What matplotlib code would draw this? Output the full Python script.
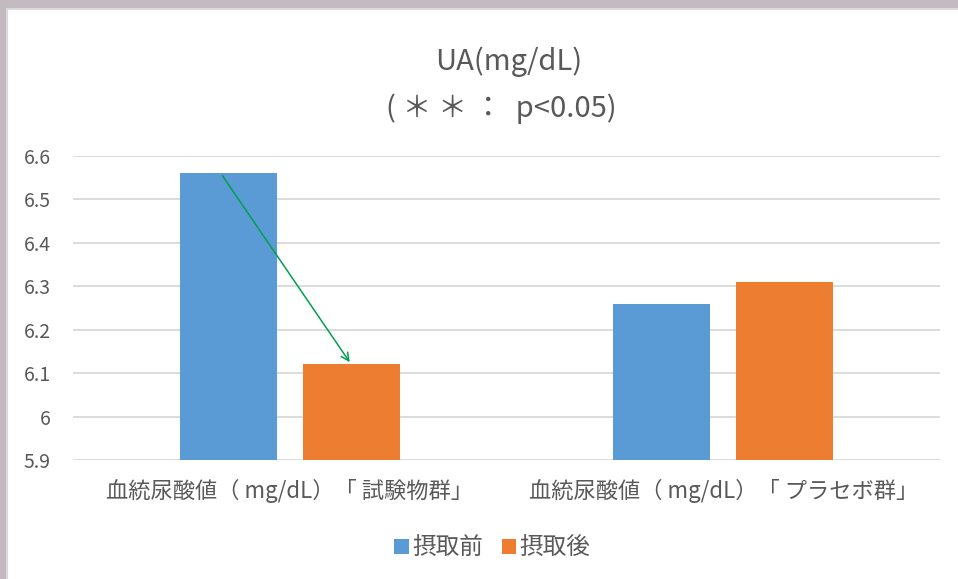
import matplotlib
matplotlib.use("Agg")
import matplotlib.pyplot as plt
from matplotlib.patches import Rectangle
import numpy as np

plt.rcParams['font.family'] = ['Noto Sans CJK JP', 'DejaVu Sans']

# データ
groups = ["血統尿酸値（ mg/dL）「 試験物群」", "血統尿酸値（ mg/dL）「 プラセボ群」"]
before = [6.56, 6.26]   # 摂取前
after = [6.12, 6.31]    # 摂取後
series_names = ["摂取前", "摂取後"]
yticks = [5.9, 6.0, 6.1, 6.2, 6.3, 6.4, 6.5, 6.6]
ytick_labels = ["5.9", "6", "6.1", "6.2", "6.3", "6.4", "6.5", "6.6"]

blue = "#5b9bd5"
orange = "#ed7d31"
txt = "#595959"

fig = plt.figure(figsize=(9.58, 5.79), dpi=100)
fig.patch.set_facecolor("white")

# スライドの枠
fig.patches.append(Rectangle((0, 0), 1, 1, transform=fig.transFigure,
                             facecolor="#c2babe", edgecolor="none", zorder=-10))
fig.patches.append(Rectangle((7 / 958, -0.05), 1.1, 1.05 - 9 / 579, transform=fig.transFigure,
                             facecolor="white", edgecolor="#dadada", lw=1.5, zorder=-9))

ax = fig.add_axes([73 / 958, 1 - 460 / 579, 867 / 958, 304 / 579])
ax.set_facecolor("none")

x = np.arange(len(groups))
w = 0.224
off = 0.142
ax.bar(x - off, before, w, color=blue, label=series_names[0], zorder=3)
ax.bar(x + off, after, w, color=orange, label=series_names[1], zorder=3)

# 矢印
ax.annotate("", xy=(x[0] + off, after[0]), xytext=(x[0] - off - 0.017, before[0]),
            arrowprops=dict(arrowstyle="->", color="#00a050", lw=1.1,
                            mutation_scale=14), zorder=5)

ax.set_xlim(-0.5, 1.5)
ax.set_ylim(5.9, 6.6)
ax.set_yticks(yticks)
ax.set_yticklabels(ytick_labels)
ax.set_xticks(x)
ax.set_xticklabels(groups)
ax.tick_params(axis="y", length=0, pad=16, labelsize=14, labelcolor=txt)
ax.tick_params(axis="x", length=0, pad=14, labelsize=16, labelcolor=txt)
ax.grid(axis="y", color="#d9d9d9", lw=1.3, zorder=0)
for s in ax.spines.values():
    s.set_visible(False)

fig.text(0.531, 0.893, "UA(mg/dL)", ha="center", va="center", fontsize=21, color=txt)
fig.text(0.523, 0.813, "( ＊ ＊ ：  p<0.05)", ha="center", va="center", fontsize=21, color=txt)

fig.legend(loc="center", bbox_to_anchor=(0.514, 0.053), ncol=2, frameon=False,
           fontsize=17, labelcolor=txt, handlelength=0.6, handleheight=0.6,
           handletextpad=0.15, columnspacing=0.8)

fig.savefig("out.png", dpi=100)
